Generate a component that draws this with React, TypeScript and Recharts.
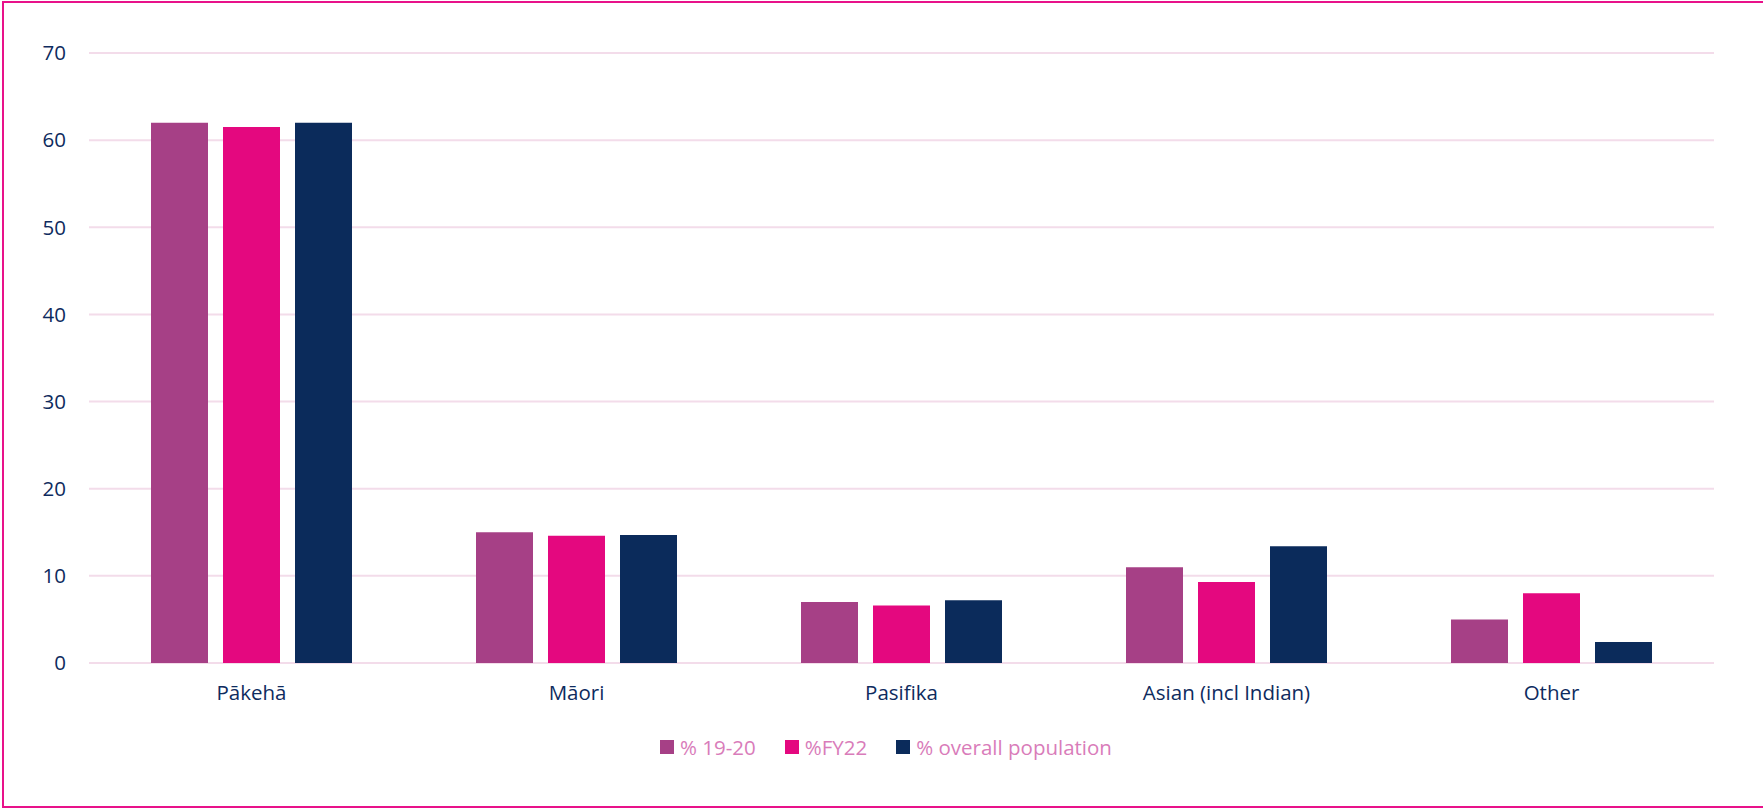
import React from 'react';
import { BarChart, Bar, XAxis, YAxis, CartesianGrid, Legend } from 'recharts';

const categories = ['Pākehā', 'Māori', 'Pasifika', 'Asian (incl Indian)', 'Other'];
const pct1920 = [62, 15, 7, 11, 5];
const pctFY22 = [61.5, 14.6, 6.6, 9.3, 8];
const pctOverall = [62, 14.7, 7.2, 13.4, 2.4];
const yTicks = [0, 10, 20, 30, 40, 50, 60, 70];
const seriesNames = ['% 19-20', '%FY22', '% overall population'];
const seriesColors = ['#A64086', '#E4087F', '#0B2B5B'];

const data = categories.map((c, i) => ({
  name: c,
  s1: pct1920[i],
  s2: pctFY22[i],
  s3: pctOverall[i],
}));

const FONT = '"Open Sans", sans-serif';
const NAVY = '#0E2B5E';

const renderLegend = (props: any) => {
  const payload = [...(props.payload || [])].sort(
    (a: any, b: any) => seriesNames.indexOf(a.value) - seriesNames.indexOf(b.value)
  );
  return (
    <div style={{ display: 'flex', alignItems: 'center', fontFamily: FONT, fontSize: 20.5, color: '#D97CBA', whiteSpace: 'nowrap' }}>
      {payload.map((p: any, i: number) => (
        <div key={i} style={{ display: 'flex', alignItems: 'center', marginRight: i < payload.length - 1 ? 29 : 0 }}>
          <div style={{ width: 14, height: 14, background: p.color, marginRight: 6 }} />
          <span>{p.value}</span>
        </div>
      ))}
    </div>
  );
};

export default function App() {
  return (
    <div style={{ position: 'absolute', left: 0, top: 0, width: 1763, height: 808, overflow: 'hidden', background: '#fff' }}>
      <div style={{ position: 'absolute', left: 2, top: 1, width: 1800, height: 807, boxSizing: 'border-box', border: '2px solid #E8128A' }} />
      <div style={{ position: 'absolute', left: 0, top: 0 }}>
        <BarChart
          width={1763}
          height={808}
          data={data}
          margin={{ top: 53, right: 49, left: 0, bottom: 0 }}
          barSize={57}
          barGap={15}
        >
          <CartesianGrid horizontal vertical={false} stroke="#F3DCEA" strokeWidth={2} />
          <XAxis
            dataKey="name"
            axisLine={false}
            tickLine={false}
            tickSize={0}
            tickMargin={22}
            height={75}
            interval={0}
            tick={{ fill: NAVY, fontSize: 20.5, fontFamily: FONT }}
          />
          <YAxis
            width={89}
            domain={[0, 70]}
            ticks={yTicks}
            axisLine={false}
            tickLine={false}
            tickSize={0}
            tickMargin={23}
            tick={{ fill: NAVY, fontSize: 20.5, fontFamily: FONT }}
          />
          <Legend
            verticalAlign="bottom"
            height={70}
            itemSorter={null as any}
            content={renderLegend}
            wrapperStyle={{ top: 733, left: 660, bottom: 'auto', width: 'auto' }}
          />
          <Bar dataKey="s1" name={seriesNames[0]} fill={seriesColors[0]} isAnimationActive={false} />
          <Bar dataKey="s2" name={seriesNames[1]} fill={seriesColors[1]} isAnimationActive={false} />
          <Bar dataKey="s3" name={seriesNames[2]} fill={seriesColors[2]} isAnimationActive={false} />
        </BarChart>
      </div>
    </div>
  );
}
